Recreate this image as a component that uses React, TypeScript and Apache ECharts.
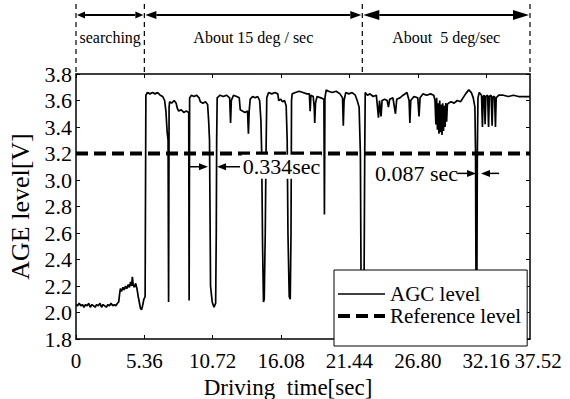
import React, { useEffect, useRef } from "react";
import * as echarts from "echarts";

// ---- data ----
const agcTime = [
  0.0, 0.12, 0.25, 0.38, 0.5, 0.62, 0.75, 0.88, 1.0, 1.12, 1.25, 1.38, 1.5, 1.62, 1.75, 1.88, 2.0, 2.12, 2.25, 2.38, 2.5, 2.62, 2.75, 2.88, 3.0, 3.12, 3.25, 3.35,
  3.42, 3.48, 3.58, 3.68, 3.78, 3.88, 3.98, 4.08, 4.18, 4.28, 4.36, 4.42, 4.48, 4.58, 4.68, 4.78, 4.88, 4.98, 5.06, 5.14, 5.22, 5.32, 5.42,
  5.48, 5.6, 5.8, 6.0, 6.2, 6.4, 6.6, 6.8, 6.95, 7.05, 7.15, 7.22, 7.26, 7.3, 7.34, 7.5, 7.7, 7.85, 7.95, 8.05, 8.25, 8.45, 8.65, 8.84, 8.87, 8.91,
  9.05, 9.25, 9.45, 9.65, 9.75, 9.95, 10.15, 10.32, 10.4, 10.47, 10.55, 10.68, 10.82, 10.95, 11.0, 11.03, 11.07, 11.3, 11.55, 11.8, 12.05, 12.12,
  12.18, 12.35, 12.6, 12.8, 12.88, 13.05, 13.25, 13.45, 13.52, 13.58, 13.66, 13.85, 14.05, 14.25, 14.4, 14.5, 14.56, 14.63, 14.7, 14.76, 14.84,
  14.9, 14.96, 15.1, 15.35, 15.6, 15.82, 15.9, 16.05, 16.2, 16.35, 16.48, 16.56, 16.62, 16.72, 16.8, 16.86, 16.9, 16.95, 17.2, 17.5, 17.8, 18.1,
  18.3, 18.36, 18.42, 18.6, 18.68, 18.72, 18.78, 18.9, 19.2, 19.44, 19.48, 19.52, 19.62, 19.8, 20.1, 20.4, 20.7, 20.9, 20.96, 21.02, 21.15, 21.4,
  21.65, 21.9, 22.05, 22.2, 22.3, 22.36, 22.58, 22.64, 22.68, 22.85, 23.05, 23.3, 23.55, 23.72, 23.8, 23.92, 24.0, 24.2, 24.4, 24.5, 24.6, 24.85,
  25.05, 25.15, 25.4, 25.65, 25.95, 26.12, 26.18, 26.25, 26.5, 26.8, 26.9, 26.98, 27.2, 27.5, 27.8, 28.05,
  28.15, 28.22, 28.28, 28.34, 28.4, 28.46, 28.52, 28.58, 28.64, 28.7, 28.76, 28.82, 28.88, 28.94, 29.0, 29.06, 29.12, 29.2,
  29.4, 29.65, 29.9, 30.15, 30.35, 30.55, 30.8, 31.0, 31.15, 31.28, 31.33, 31.37, 31.43, 31.47, 31.52, 31.62, 31.8, 31.87, 31.93, 32.02, 32.08,
  32.14, 32.28, 32.35, 32.41, 32.55, 32.63, 32.69, 32.82, 32.89, 32.95, 33.15, 33.5, 33.9, 34.3, 34.7, 35.1, 35.6,
];
const agcLevel = [
  2.06, 2.05, 2.07, 2.05, 2.06, 2.04, 2.06, 2.05, 2.07, 2.04, 2.06, 2.05, 2.04, 2.06, 2.05, 2.07, 2.04, 2.06, 2.05, 2.04, 2.06, 2.05, 2.07, 2.05, 2.06, 2.05, 2.07, 2.08,
  2.14, 2.18, 2.16, 2.19, 2.17, 2.2, 2.18, 2.21, 2.19, 2.23, 2.2, 2.27, 2.21, 2.19, 2.22, 2.18, 2.12, 2.07, 2.03, 2.02, 2.05, 2.1, 2.12,
  3.64, 3.66, 3.65, 3.66, 3.65, 3.66, 3.64, 3.63, 3.6, 3.52, 3.36, 3.3, 2.08, 3.55, 3.59, 3.58, 3.6, 3.58, 3.54, 3.52, 3.53, 3.51, 3.52, 3.51, 2.09, 3.62,
  3.64, 3.63, 3.64, 3.62, 3.59, 3.58, 3.59, 3.57, 3.45, 3.3, 2.2, 2.08, 2.04, 2.07, 2.6, 3.3, 3.62, 3.64, 3.63, 3.64, 3.62, 3.43,
  3.6, 3.64, 3.63, 3.62, 3.53, 3.52, 3.51, 3.52, 3.35, 3.52, 3.61, 3.63, 3.62, 3.63, 3.6, 3.45, 3.2, 2.5, 2.08, 2.1, 2.6,
  3.2, 3.62, 3.66, 3.65, 3.66, 3.65, 3.6, 3.61, 3.59, 3.6, 3.56, 3.3, 2.6, 2.12, 2.1, 2.6, 3.6, 3.65, 3.66, 3.67, 3.66, 3.65,
  3.65, 3.52, 3.64, 3.63, 3.55, 3.43, 3.58, 3.63, 3.62, 3.61, 2.74, 3.62, 3.68, 3.67, 3.66, 3.67, 3.65, 3.62, 3.41, 3.6, 3.66, 3.65,
  3.66, 3.64, 3.6, 3.55, 3.2, 2.1, 2.08, 3.2, 3.66, 3.64, 3.65, 3.63, 3.64, 3.47, 3.6, 3.48, 3.6, 3.61, 3.6, 3.55, 3.61, 3.62,
  3.5, 3.61, 3.62, 3.64, 3.66, 3.6, 3.43, 3.6, 3.63, 3.62, 3.48, 3.62, 3.65, 3.64, 3.65, 3.64,
  3.6, 3.42, 3.62, 3.38, 3.58, 3.35, 3.6, 3.36, 3.57, 3.34, 3.58, 3.37, 3.56, 3.4, 3.58, 3.44, 3.57, 3.58,
  3.59, 3.58, 3.6, 3.59, 3.62, 3.65, 3.68, 3.66, 3.62, 3.55, 3.2, 2.1, 2.1, 3.2, 3.62, 3.66, 3.64, 3.4, 3.63, 3.64, 3.42,
  3.63, 3.64, 3.4, 3.63, 3.64, 3.41, 3.63, 3.63, 3.4, 3.62, 3.64, 3.64, 3.63, 3.64, 3.63, 3.63, 3.63,
];
const referenceLevel = 3.2;

const xTickValues = [0, 5.36, 10.72, 16.08, 21.44, 26.8, 32.16];
const xTickLabels = ["0", "5.36", "10.72", "16.08", "21.44", "26.80", "32.16", "37.52"];
const xAxisEnd = 35.6;
const yMin = 1.8;
const yMax = 3.8;
const yStep = 0.2;

const sectionBounds = [0, 5.36, 22.45, 35.6];
const sectionNames = ["searching", "About 15 deg / sec", "About  5 deg/sec"];

const gapNoteLabels = ["0.334sec", "0.087 sec"];
const gapNoteLevels = [3.1, 3.05];
const gapNoteLeftTail = [8.94, 29.88];
const gapNoteLeftTip = [10.35, 31.37];
const gapNoteRightTip = [11.06, 31.76];
const gapNoteRightTail = [12.86, 33.18];
const gapNoteTextStart = [13.0, 23.37];

const FONT = "'Liberation Serif', 'Times New Roman', serif";

const SOLID_ICON = "path://M0,0 H47 V1.6 H0 Z";
const DASH_ICON = "path://M0,0 H12 V4 H0 Z M18,0 H30 V4 H18 Z M36,0 H47 V4 H36 Z";

function arrowHead(tipX: number, y: number, dir: number, len: number, half: number) {
  const base = tipX - dir * len;
  return {
    type: "polygon",
    z: 60,
    shape: { points: [[tipX, y], [base, y - half], [base, y + half]] },
    style: { fill: "#000" },
  };
}

function oneWayArrow(tail: number, tip: number, y: number, len: number, half: number, w: number) {
  const dir = tip > tail ? 1 : -1;
  return [
    { type: "line", z: 60, shape: { x1: tail, y1: y, x2: tip - dir * len, y2: y }, style: { stroke: "#000", lineWidth: w } },
    arrowHead(tip, y, dir, len, half),
  ];
}

export default function App() {
  const ref = useRef<HTMLDivElement>(null);

  useEffect(() => {
    if (!ref.current) return;
    const chart = echarts.init(ref.current, null, { renderer: "svg" });
    const labelPositions = [...xTickValues, xAxisEnd];
    const lastIdx = labelPositions.length - 1;
    const xLabelFor = (v: number) => {
      const i = labelPositions.findIndex((p) => Math.abs(p - v) < 1e-6);
      if (i < 0) return "";
      return i === lastIdx ? "{last|" + xTickLabels[i] + "}" : xTickLabels[i];
    };
    const black = "#000";
    const option: any = {
      animation: false,
      backgroundColor: "#fff",
      textStyle: { fontFamily: FONT, color: black },
      grid: { left: 76, right: 40, top: 74, bottom: 60, containLabel: false, outerBoundsMode: "none" },
      legend: {
        left: 334,
        top: 270,
        orient: "vertical",
        itemWidth: 47,
        itemHeight: 14,
        itemGap: 0,
        padding: [13, 6, 19, 4],
        borderColor: black,
        borderWidth: 1,
        backgroundColor: "#fff",
        selectedMode: false,
        textStyle: { fontSize: 21, fontFamily: FONT, color: black, lineHeight: 22 },
        data: [
          { name: "AGC level", icon: SOLID_ICON },
          { name: "Reference level", icon: DASH_ICON },
        ],
      },
      xAxis: [
        {
          type: "value",
          position: "bottom",
          min: 0,
          max: xAxisEnd,
          axisLine: { onZero: false, lineStyle: { color: black, width: 1.5 } },
          axisTick: { inside: true, length: 4, customValues: xTickValues, lineStyle: { color: black } },
          axisLabel: {
            customValues: labelPositions,
            formatter: xLabelFor,
            showMinLabel: true,
            showMaxLabel: true,
            hideOverlap: false,
            fontSize: 21,
            fontFamily: FONT,
            color: black,
            margin: 11,
            rich: {
              last: { fontSize: 21, fontFamily: FONT, color: black, padding: [0, 0, 0, 16] },
            },
          },
          splitLine: { show: false },
          name: "Driving  time[sec]",
          nameLocation: "middle",
          nameGap: 27,
          nameTextStyle: { fontSize: 23, fontFamily: FONT, color: black, padding: [0, 30, 0, 0] },
        },
        {
          type: "value",
          position: "top",
          min: 0,
          max: xAxisEnd,
          axisLine: { onZero: false, lineStyle: { color: black, width: 1.5 } },
          axisTick: { inside: true, length: 4, customValues: xTickValues, lineStyle: { color: black } },
          axisLabel: { show: false },
          splitLine: { show: false },
        },
      ],
      yAxis: [
        {
          type: "value",
          position: "left",
          min: yMin,
          max: yMax,
          interval: yStep,
          axisLine: { show: true, onZero: false, lineStyle: { color: black, width: 1.5 } },
          axisTick: { show: true, inside: true, length: 4, lineStyle: { color: black } },
          axisLabel: {
            formatter: (v: number) => v.toFixed(1),
            showMinLabel: true,
            showMaxLabel: true,
            fontSize: 22,
            fontFamily: FONT,
            color: black,
            margin: 4,
            padding: [10, 0, 0, 0],
          },
          splitLine: { show: false },
          name: "AGE level[V]",
          nameLocation: "middle",
          nameGap: 38,
          nameTextStyle: { fontSize: 26, fontFamily: FONT, color: black },
        },
        {
          type: "value",
          position: "right",
          min: yMin,
          max: yMax,
          interval: yStep,
          axisLine: { show: true, onZero: false, lineStyle: { color: black, width: 1.5 } },
          axisTick: { show: true, inside: true, length: 4, lineStyle: { color: black } },
          axisLabel: { show: false },
          splitLine: { show: false },
        },
      ],
      series: [
        {
          name: "AGC level",
          type: "line",
          data: agcTime.map((t, i) => [t, agcLevel[i]]),
          symbol: "none",
          lineStyle: { color: black, width: 1.7 },
          itemStyle: { color: black },
          z: 2,
        },
        {
          name: "Reference level",
          type: "line",
          data: [
            [0, referenceLevel],
            [xAxisEnd, referenceLevel],
          ],
          symbol: "none",
          lineStyle: { color: black, width: 4, type: [12, 6] },
          itemStyle: { color: black },
          z: 3,
        },
      ],
    };
    chart.setOption(option);

    const px = (t: number, v: number) => chart.convertToPixel({ seriesIndex: 0 }, [t, v]) as number[];
    const graphics: any[] = [];
    const topY = px(0, yMax)[1];
    const arrowY = 15;
    const textY = 37;
    const heads = [
      [8, 3.5],
      [11, 4],
      [16, 5],
    ];
    const boundX = sectionBounds.map((b) => px(b, yMax)[0]);
    boundX.forEach((x) => {
      graphics.push({
        type: "line",
        z: 60,
        shape: { x1: x, y1: 4, x2: x, y2: topY },
        style: { stroke: black, lineWidth: 1.2, lineDash: [5, 4] },
      });
    });
    for (let i = 0; i < sectionNames.length; i++) {
      const xa = boundX[i] + 1;
      const xb = boundX[i + 1] - 1;
      const [len, half] = heads[i];
      graphics.push({
        type: "line",
        z: 60,
        shape: { x1: xa + len, y1: arrowY, x2: xb - len, y2: arrowY },
        style: { stroke: black, lineWidth: 2 },
      });
      graphics.push(arrowHead(xa, arrowY, -1, len, half));
      graphics.push(arrowHead(xb, arrowY, 1, len, half));
      graphics.push({
        type: "text",
        z: 60,
        x: (boundX[i] + boundX[i + 1]) / 2,
        y: textY,
        style: {
          text: sectionNames[i],
          fontSize: 16,
          fontFamily: FONT,
          fill: black,
          align: "center",
          verticalAlign: "middle",
        },
      });
    }
    for (let i = 0; i < gapNoteLabels.length; i++) {
      const y = px(0, gapNoteLevels[i])[1];
      const lt = px(gapNoteLeftTail[i], yMin)[0];
      const lp = px(gapNoteLeftTip[i], yMin)[0];
      const rp = px(gapNoteRightTip[i], yMin)[0];
      const rt = px(gapNoteRightTail[i], yMin)[0];
      const tx = px(gapNoteTextStart[i], yMin)[0];
      graphics.push(...oneWayArrow(lt, lp, y, 9, 3.5, 1.5));
      graphics.push(...oneWayArrow(rt, rp, y, 9, 3.5, 1.5));
      graphics.push({
        type: "text",
        z: 55,
        x: tx,
        y,
        style: {
          text: gapNoteLabels[i],
          fontSize: 22,
          fontFamily: FONT,
          fill: black,
          align: "left",
          verticalAlign: "middle",
          backgroundColor: "#fff",
          padding: [1, 1],
        },
      });
    }
    chart.setOption({ graphic: graphics });

    return () => {
      chart.dispose();
    };
  }, []);

  return (
    <div
      ref={ref}
      style={{ position: "fixed", left: 0, top: 0, width: 570, height: 399, background: "#fff" }}
    />
  );
}
